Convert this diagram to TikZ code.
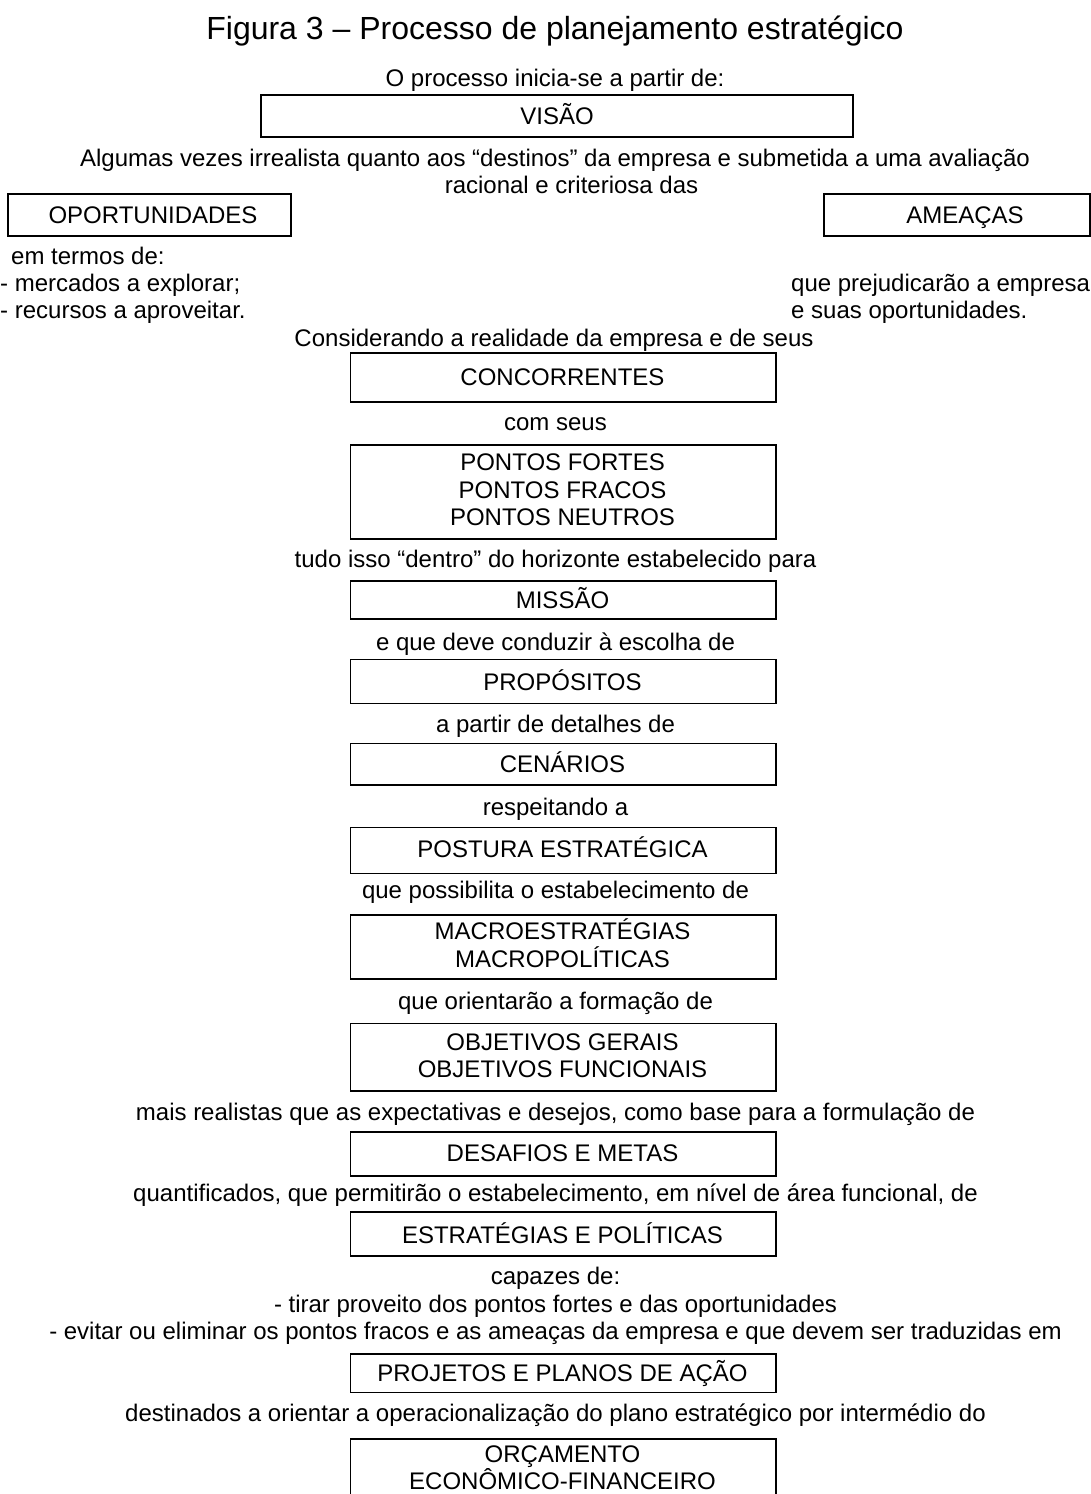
\documentclass[tikz,border=0pt]{standalone}
\usepackage{fontspec}
\setmainfont{Liberation Sans}
\begin{document}
\begin{tikzpicture}[x=1pt,y=-1pt,
  txt/.style={font=\fontsize{24}{27.6}\selectfont, inner sep=0pt, anchor=base},
  ltxt/.style={txt, anchor=base west},
  ttl/.style={font=\fontsize{32}{38}\selectfont, inner sep=0pt, anchor=base},
  box/.style={draw, line width=1.6pt, inner sep=0pt, minimum width=425.5pt},
]
\useasboundingbox (0,0) rectangle (1091,1494);
\fill[white] (0,0) rectangle (1091,1494);
\clip (0,0) rectangle (1091,1494);

% title
\node[ttl] (title) at (555,39) {Figura 3 – Processo de planejamento estratégico};

% top part
\node[txt] (t1) at (555,86) {O processo inicia-se a partir de:};
\node[box, minimum width=592pt, minimum height=42.5pt] (visao) at (557,116) {};
\node[txt] (visaoT) at (557,124.8) {VISÃO};
\node[txt] (t2) at (555,166.5) {Algumas vezes irrealista quanto aos “destinos” da empresa e submetida a uma avaliação};
\node[txt] (t3) at (571.5,193.5) {racional e criteriosa das};

\node[box, minimum width=283pt, minimum height=42pt] (oport) at (149.5,215) {};
\node[txt] (oportT) at (153,223.6) {OPORTUNIDADES};
\node[box, minimum width=266pt, minimum height=42pt] (ameacas) at (957,215) {};
\node[txt] (ameacasT) at (965,223.6) {AMEAÇAS};

\node[ltxt] (l1) at (11,264) {em termos de:};
\node[ltxt] (l2) at (0,291) {- mercados a explorar;};
\node[ltxt] (l3) at (0,318.5) {- recursos a aproveitar.};
\node[ltxt] (r1) at (791,291) {que prejudicarão a empresa};
\node[ltxt] (r2) at (791,318.5) {e suas oportunidades.};

\node[txt] (t4) at (554,346.5) {Considerando a realidade da empresa e de seus};
\node[box, minimum height=49pt] (concorrentes) at (563.25,377.2) {};
\node[txt] (concorrentesT) at (562.5,385.8) {CONCORRENTES};

\node[txt] (t5) at (555.5,430) {com seus};
\node[box, minimum height=94pt] (pontos) at (563.25,492) {};
\node[txt] (pontosT1) at (562.5,470.7) {PONTOS FORTES};
\node[txt] (pontosT2) at (562.5,498.3) {PONTOS FRACOS};
\node[txt] (pontosT3) at (562.5,525.9) {PONTOS NEUTROS};

\node[txt] (t6) at (555.5,567) {tudo isso “dentro” do horizonte estabelecido para};
\node[box, minimum height=38pt] (missao) at (563.25,600) {};
\node[txt] (missaoT) at (562.5,608.7) {MISSÃO};

\node[txt] (t7) at (555.5,650) {e que deve conduzir à escolha de};
\node[box, minimum height=44pt] (propositos) at (563.25,681.3) {};
\node[txt] (propositosT) at (562.5,690) {PROPÓSITOS};

\node[txt] (t8) at (555.5,732.7) {a partir de detalhes de};
\node[box, minimum height=41.7pt] (cenarios) at (563.25,764.2) {};
\node[txt] (cenariosT) at (562.5,772.8) {CENÁRIOS};

\node[txt] (t9) at (555.5,815) {respeitando a};
\node[box, minimum height=46pt] (postura) at (563.25,850.3) {};
\node[txt] (posturaT) at (562.5,857.5) {POSTURA ESTRATÉGICA};

\node[txt] (t10) at (555.5,898.3) {que possibilita o estabelecimento de};
\node[box, minimum height=64pt] (macro) at (563.25,947) {};
\node[txt] (macroT1) at (562.5,939.3) {MACROESTRATÉGIAS};
\node[txt] (macroT2) at (562.5,967) {MACROPOLÍTICAS};

\node[txt] (t11) at (555.5,1009.3) {que orientarão a formação de};
\node[box, minimum height=67.4pt] (objetivos) at (563.25,1057) {};
\node[txt] (objetivosT1) at (562.5,1050) {OBJETIVOS GERAIS};
\node[txt] (objetivosT2) at (562.5,1077.6) {OBJETIVOS FUNCIONAIS};

\node[txt] (t12) at (555.5,1120) {mais realistas que as expectativas e desejos, como base para a formulação de};
\node[box, minimum height=44.3pt] (desafios) at (563.25,1153.85) {};
\node[txt] (desafiosT) at (562.5,1161) {DESAFIOS E METAS};

\node[txt] (t13) at (555.5,1201.7) {quantificados, que permitirão o estabelecimento, em nível de área funcional, de};
\node[box, minimum height=44.3pt] (estrategias) at (563.25,1233.85) {};
\node[txt] (estrategiasT) at (562.5,1243.3) {ESTRATÉGIAS E POLÍTICAS};

\node[txt] (t14) at (555.5,1284.5) {capazes de:};
\node[txt] (t15) at (555.5,1312) {- tirar proveito dos pontos fortes e das oportunidades};
\node[txt] (t16) at (555.5,1339.6) {- evitar ou eliminar os pontos fracos e as ameaças da empresa e que devem ser traduzidas em};
\node[box, minimum height=38.3pt] (projetos) at (563.25,1373.2) {};
\node[txt] (projetosT) at (562.5,1381.3) {PROJETOS E PLANOS DE AÇÃO};

\node[txt] (t17) at (555.5,1421.7) {destinados a orientar a operacionalização do plano estratégico por intermédio do};
\node[box, minimum height=80pt] (orcamento) at (563.25,1479) {};
\node[txt] (orcamentoT1) at (562.5,1462) {ORÇAMENTO};
\node[txt] (orcamentoT2) at (562.5,1489) {ECONÔMICO-FINANCEIRO};
\end{tikzpicture}
\end{document}
